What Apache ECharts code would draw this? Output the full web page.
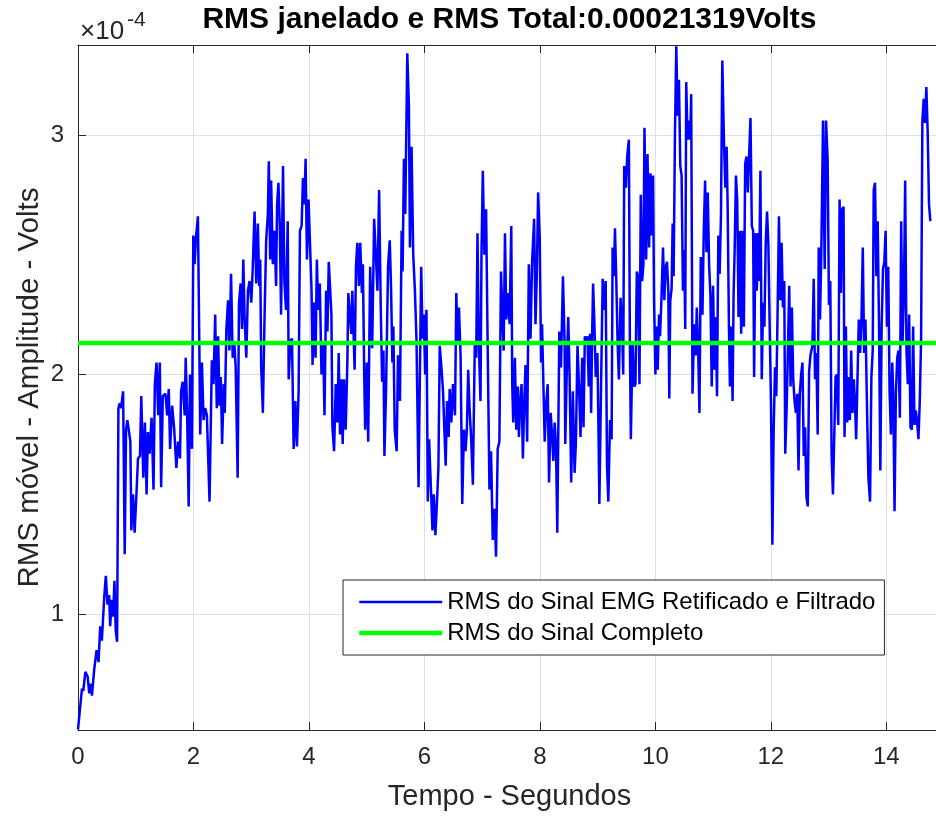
<!DOCTYPE html>
<html>
<head>
<meta charset="utf-8">
<script src="https://cdn.jsdelivr.net/npm/echarts@6.0.0/dist/echarts.min.js"></script>
<style>
html,body{margin:0;padding:0;background:#fff;}
#chart{width:936px;height:816px;}
</style>
</head>
<body>
<div id="chart"></div>
<script>
// Values in units of 1e-4 V, time in seconds
const titleText = 'RMS janelado e RMS Total:0.00021319Volts';
const xLabel = 'Tempo - Segundos';
const yLabel = 'RMS móvel - Amplitude - Volts';
const seriesNames = ['RMS do Sinal EMG Retificado e Filtrado', 'RMS do Sinal Completo'];
const xTicks = [0, 2, 4, 6, 8, 10, 12, 14];
const yTicks = [1, 2, 3];
const xRange = [0, 14.86];
const yRange = [0.517, 3.375];
const rmsTotal = 2.1319; // x 1e-4 V

const emg0 = [[0,0.52],[0.069,0.69],[0.092,0.68],[0.127,0.76],[0.167,0.74],[0.195,0.67],[0.224,0.71],[0.241,0.66],[0.281,0.77],[0.322,0.85],[0.356,0.80],[0.385,0.95],[0.413,0.89],[0.454,1.07],[0.482,1.16],[0.511,1.04],[0.540,1.08],[0.557,0.95],[0.585,1.06],[0.609,0.99],[0.631,1.14],[0.654,0.93],[0.677,0.885],[0.700,1.86],[0.723,1.88],[0.746,1.86],[0.781,1.93],[0.809,1.25],[0.832,1.77],[0.855,1.81],[0.884,1.81],[0.907,1.72],[0.924,1.35],[0.953,1.50],[0.981,1.34],[1.010,1.49],[1.039,1.65],[1.073,1.66],[1.096,1.91],[1.131,1.57],[1.159,1.80],[1.188,1.50],[1.211,1.76],[1.240,1.67],[1.274,1.82],[1.308,1.52],[1.331,1.96],[1.360,2.05],[1.389,1.83],[1.417,2.05],[1.440,1.53],[1.469,1.91],[1.515,1.92],[1.544,1.83],[1.572,1.94],[1.595,1.69],[1.630,1.87],[1.664,1.78],[1.704,1.61],[1.733,1.72],[1.767,1.65],[1.785,1.93],[1.813,1.97],[1.848,1.83],[1.865,2.07],[1.888,1.86],[1.917,1.45],[1.940,2.00],[1.974,1.69],[1.997,2.58],[2.020,2.46],[2.043,2.57],[2.077,2.66],[2.100,2.15],[2.117,1.75],[2.146,2.05],[2.175,1.81],[2.203,1.86],[2.232,1.83],[2.278,1.47],[2.318,2.06],[2.347,1.96],[2.376,2.25],[2.404,1.86]];

const emg1 = [[2.427,2.16],[2.450,1.87],[2.473,1.99],[2.496,1.71],[2.525,1.96],[2.542,1.84],[2.570,2.19],[2.599,2.31],[2.622,2.10],[2.651,2.42],[2.679,2.07],[2.708,2.13],[2.731,2.03],[2.765,1.57],[2.788,2.30],[2.817,2.38],[2.840,2.19],[2.863,2.48],[2.886,2.23],[2.915,2.07],[2.943,2.35],[2.972,2.39],[3.001,2.30],[3.024,2.43],[3.058,2.68],[3.087,2.38],[3.115,2.63],[3.138,2.37],[3.156,2.48],[3.173,2.03],[3.202,1.84],[3.230,2.23],[3.259,2.56],[3.288,2.67],[3.305,2.89],[3.328,2.48],[3.345,2.81],[3.374,2.46],[3.402,2.60],[3.431,2.37],[3.448,2.71],[3.471,2.80],[3.494,2.63],[3.517,2.25],[3.551,2.87],[3.574,2.39],[3.603,2.27],[3.632,2.64],[3.649,1.98],[3.678,2.14],[3.706,2.15],[3.735,1.69],[3.764,1.89],[3.792,1.70],[3.821,1.93],[3.844,2.60],[3.873,2.62],[3.896,2.82],[3.919,2.71],[3.942,2.90],[3.965,2.48],[3.993,2.73],[4.022,2.73],[4.045,2.35],[4.062,2.04],[4.091,2.30],[4.114,2.07],[4.137,2.48],[4.160,2.27],[4.188,2.38],[4.217,2.00],[4.246,2.13],[4.269,1.83],[4.297,2.35],[4.320,2.18],[4.343,2.47],[4.366,2.47],[4.389,2.25],[4.406,1.78],[4.435,1.68],[4.464,1.96],[4.492,1.80],[4.515,2.09],[4.538,1.75],[4.561,1.98],[4.584,1.71],[4.607,1.98],[4.636,1.77],[4.665,2.05],[4.682,2.34],[4.711,2.34],[4.733,2.17],[4.751,2.35],[4.791,2.02],[4.814,2.45],[4.837,2.55],[4.865,2.37]];

const emg2 = [[4.888,2.55],[4.917,2.34],[4.934,2.46],[4.957,2.00],[4.974,1.77],[5.003,2.05],[5.026,1.72],[5.060,2.45],[5.095,2.11],[5.129,2.65],[5.158,2.50],[5.186,2.35],[5.215,2.77],[5.244,2.27],[5.267,1.97],[5.290,2.10],[5.307,1.66],[5.335,1.93],[5.370,2.45],[5.399,2.56],[5.422,2.36],[5.445,2.05],[5.462,2.20],[5.485,1.77],[5.519,1.68],[5.542,2.08],[5.576,1.89],[5.605,2.60],[5.622,2.43],[5.645,2.90],[5.668,2.67],[5.703,3.34],[5.731,3.12],[5.749,2.53],[5.777,2.95],[5.806,2.50],[5.835,2.35],[5.863,2.14],[5.898,1.53],[5.921,2.00],[5.944,2.45],[5.967,2.15],[5.990,2.25],[6.012,2.00],[6.035,2.27],[6.058,1.47],[6.081,1.73],[6.104,1.58],[6.139,1.35],[6.162,1.50],[6.190,1.33],[6.219,1.48],[6.242,1.61],[6.265,2.12],[6.294,2.03],[6.322,1.93],[6.351,1.73],[6.368,1.62],[6.391,1.89],[6.420,1.74],[6.437,1.94],[6.466,1.80],[6.494,1.96],[6.529,1.83],[6.552,2.34],[6.575,2.14],[6.598,2.28],[6.626,2.08],[6.655,1.46],[6.684,1.77],[6.712,1.68],[6.735,1.77],[6.758,2.02],[6.781,1.86],[6.810,1.73],[6.839,1.54],[6.873,2.14],[6.896,2.07],[6.919,2.59],[6.942,2.13],[6.971,1.89],[6.988,2.50],[7.011,2.85],[7.039,2.50],[7.068,2.69],[7.091,2.20],[7.126,1.52],[7.154,1.68],[7.183,1.31],[7.212,1.44],[7.240,1.24],[7.269,1.69],[7.298,1.72],[7.326,2.43]];

const emg3 = [[7.372,2.10],[7.395,2.59],[7.418,2.23],[7.447,2.34],[7.475,2.21],[7.504,2.62],[7.521,1.96],[7.538,1.80],[7.567,2.07],[7.590,1.77],[7.619,1.95],[7.636,1.74],[7.659,1.88],[7.682,1.96],[7.705,1.65],[7.728,1.88],[7.751,2.04],[7.779,1.72],[7.808,2.46],[7.837,2.15],[7.865,2.47],[7.900,2.65],[7.923,2.21],[7.946,2.41],[7.969,2.76],[7.997,2.57],[8.020,2.05],[8.037,2.21],[8.060,1.96],[8.083,1.72],[8.112,1.89],[8.135,1.96],[8.158,1.55],[8.187,1.84],[8.210,1.75],[8.233,1.64],[8.255,1.80],[8.278,1.71],[8.301,1.34],[8.336,2.18],[8.365,2.03],[8.399,2.41],[8.428,2.13],[8.439,1.71],[8.473,2.10],[8.491,2.24],[8.514,1.99],[8.542,1.55],[8.571,1.93],[8.600,1.59],[8.623,1.71],[8.651,2.12],[8.680,1.93],[8.703,1.74],[8.732,2.07],[8.755,1.78],[8.778,2.16],[8.801,2.13],[8.823,2.16],[8.846,1.95],[8.869,2.17],[8.887,1.84],[8.904,2.16],[8.921,2.38],[8.944,2.21],[8.967,1.99],[8.996,2.09],[9.013,1.80],[9.030,1.46],[9.059,1.95],[9.087,2.40],[9.110,2.27],[9.139,2.39],[9.162,1.62],[9.185,1.47],[9.214,1.81],[9.242,1.73],[9.259,2.53],[9.282,2.41],[9.300,2.61],[9.323,2.39],[9.346,2.13],[9.368,1.98],[9.397,2.32],[9.426,2.17],[9.443,2.00],[9.460,2.87],[9.489,2.78],[9.512,2.91],[9.541,2.98],[9.558,2.14],[9.575,1.73],[9.604,2.13],[9.633,1.95],[9.655,1.96],[9.678,2.43],[9.701,2.41],[9.724,1.96],[9.747,2.75],[9.770,2.39],[9.793,2.46]];

const emg4 = [[9.811,3.03],[9.840,2.48],[9.863,2.92],[9.891,2.53],[9.914,2.84],[9.937,2.58],[9.960,2.83],[9.977,2.31],[10.000,2.00],[10.023,2.20],[10.040,2.02],[10.063,2.25],[10.081,2.16],[10.104,2.31],[10.132,2.53],[10.155,2.31],[10.178,2.45],[10.201,2.47],[10.224,2.35],[10.241,1.90],[10.258,2.31],[10.281,2.36],[10.299,2.63],[10.316,2.41],[10.339,3.01],[10.362,3.37],[10.385,3.08],[10.408,3.23],[10.431,2.87],[10.454,2.83],[10.477,2.35],[10.499,2.52],[10.517,2.19],[10.534,3.22],[10.557,2.98],[10.580,3.06],[10.603,2.98],[10.620,3.17],[10.643,1.92],[10.672,2.21],[10.700,2.08],[10.717,2.28],[10.740,2.11],[10.763,1.84],[10.786,2.49],[10.815,2.25],[10.838,2.60],[10.861,2.81],[10.884,2.51],[10.907,2.76],[10.930,2.46],[10.953,2.33],[10.976,1.95],[10.999,2.37],[11.022,2.02],[11.045,2.24],[11.067,1.91],[11.090,2.58],[11.113,2.42],[11.136,2.67],[11.159,3.31],[11.188,2.97],[11.211,2.78],[11.234,2.95],[11.251,2.71],[11.274,2.20],[11.291,1.95],[11.314,2.20],[11.337,1.89],[11.354,2.33],[11.372,2.51],[11.395,2.83],[11.417,2.73],[11.440,2.24],[11.463,2.60],[11.486,2.17],[11.509,2.60],[11.532,2.20],[11.555,2.88],[11.578,2.91],[11.601,2.76],[11.624,2.92],[11.647,3.07],[11.670,2.62],[11.693,2.60],[11.710,1.99],[11.733,2.59],[11.756,2.35],[11.779,2.59],[11.796,2.39],[11.819,2.85],[11.842,1.98],[11.865,2.30],[11.888,2.20],[11.911,2.55],[11.934,2.68],[11.957,2.54],[11.980,2.19],[12.003,1.86],[12.026,1.29],[12.049,1.78],[12.072,2.03],[12.094,1.91],[12.117,2.27],[12.140,2.66],[12.163,2.31],[12.186,2.55],[12.209,2.28],[12.232,2.39],[12.249,1.67]];

const emg5 = [[12.272,1.85],[12.295,2.10],[12.318,2.37],[12.341,1.95],[12.364,2.28],[12.387,1.98],[12.410,1.89],[12.433,1.84],[12.456,1.92],[12.479,1.60],[12.501,1.92],[12.524,2.00],[12.547,2.05],[12.570,1.66],[12.593,1.78],[12.616,1.49],[12.639,1.45],[12.662,2.01],[12.685,2.08],[12.719,2.12],[12.742,2.40],[12.765,1.98],[12.788,2.09],[12.811,1.75],[12.829,2.53],[12.851,2.23],[12.874,2.51],[12.903,3.06],[12.932,2.44],[12.955,3.06],[12.983,2.90],[13.006,2.29],[13.029,2.39],[13.052,1.66],[13.075,1.50],[13.104,1.50],[13.121,1.99],[13.144,2.00],[13.167,1.79],[13.190,2.73],[13.213,2.34],[13.236,2.69],[13.259,2.70],[13.276,1.74],[13.299,2.20],[13.322,1.80],[13.345,1.99],[13.368,1.81],[13.391,2.10],[13.414,1.84],[13.437,1.98],[13.460,1.86],[13.477,1.73],[13.500,1.98],[13.523,2.23],[13.546,2.09],[13.569,2.23],[13.592,2.53],[13.615,2.09],[13.638,2.23],[13.666,1.85],[13.689,1.57],[13.718,1.47],[13.741,1.99],[13.764,2.10],[13.781,2.77],[13.804,2.80],[13.827,2.41],[13.850,2.64],[13.873,2.21],[13.896,1.60],[13.919,2.21],[13.942,2.44],[13.965,2.47],[13.987,2.60],[14.010,2.20],[14.033,2.45],[14.056,1.93],[14.079,1.75],[14.102,2.05],[14.119,1.92],[14.142,1.43],[14.165,1.92],[14.188,2.07],[14.211,2.10],[14.234,1.82],[14.257,2.64],[14.280,2.13],[14.303,2.32],[14.326,2.81],[14.349,2.10],[14.372,1.96],[14.395,2.25],[14.418,1.78],[14.441,1.77],[14.464,2.20],[14.487,1.79],[14.510,1.85],[14.533,1.80],[14.556,1.73],[14.579,1.89],[14.602,2.15],[14.624,3.06],[14.647,3.15],[14.670,3.05],[14.693,3.20],[14.716,3.01],[14.739,2.71],[14.762,2.64]];

const emgData = [].concat(emg0, emg1, emg2, emg3, emg4, emg5);
const rmsLine = [[xRange[0], rmsTotal], [xRange[1], rmsTotal]];

const FONT = 'Liberation Sans, Arial, Helvetica, sans-serif';
const AX = '#262626';
const GRIDC = '#dfdfdf';
const BLUE_W = 2.5, GREEN_W = 4.5;

const chart = echarts.init(document.getElementById('chart'), null, {renderer: 'canvas'});
chart.setOption({
  animation: false,
  backgroundColor: '#ffffff',
  grid: {left: 78, right: -5, top: 45, bottom: 86, containLabel: false},
  xAxis: [{
    type: 'value', min: xRange[0], max: xRange[1], position: 'bottom',
    axisLine: {show: true, onZero: false, lineStyle: {color: AX, width: 1}},
    axisTick: {show: true, inside: true, length: 8, customValues: xTicks, lineStyle: {color: AX}},
    axisLabel: {show: true, customValues: xTicks, margin: 15, color: AX, fontSize: 24, fontFamily: FONT},
    splitLine: {show: true, lineStyle: {color: GRIDC, width: 1}}
  }, {
    type: 'value', min: xRange[0], max: xRange[1], position: 'top',
    axisLine: {show: true, onZero: false, lineStyle: {color: AX, width: 1}},
    axisTick: {show: true, inside: true, length: 8, customValues: xTicks, lineStyle: {color: AX}},
    axisLabel: {show: false},
    splitLine: {show: false}
  }],
  yAxis: [{
    type: 'value', min: yRange[0], max: yRange[1],
    axisLine: {show: true, onZero: false, lineStyle: {color: AX, width: 1}},
    axisTick: {show: true, inside: true, length: 8, customValues: yTicks, lineStyle: {color: AX}},
    axisLabel: {show: true, customValues: yTicks, margin: 14, color: AX, fontSize: 24, fontFamily: FONT},
    splitLine: {show: true, lineStyle: {color: GRIDC, width: 1}}
  }],
  legend: {
    show: true, orient: 'vertical', left: 343, top: 580,
    padding: [10, 9, 10, 14], itemGap: 7, itemWidth: 83, itemHeight: 14,
    borderColor: AX, borderWidth: 1, backgroundColor: '#ffffff',
    itemStyle: {opacity: 0},
    textStyle: {fontSize: 24, color: '#000000', fontFamily: FONT},
    data: [
      {name: seriesNames[0], lineStyle: {width: BLUE_W, color: '#0000ff'}},
      {name: seriesNames[1], lineStyle: {width: GREEN_W, color: '#00ff00'}}
    ]
  },
  series: [{
    name: seriesNames[0], type: 'line', data: emgData, xAxisIndex: 0, yAxisIndex: 0,
    symbol: 'none', showSymbol: false, smooth: false,
    lineStyle: {color: '#0000ff', width: BLUE_W}, itemStyle: {color: '#0000ff'}, z: 2
  }, {
    name: seriesNames[1], type: 'line', data: rmsLine, xAxisIndex: 0, yAxisIndex: 0,
    symbol: 'none', showSymbol: false,
    lineStyle: {color: '#00ff00', width: GREEN_W}, itemStyle: {color: '#00ff00'}, z: 3
  }],
  graphic: [
    {type: 'text', x: 509.5, y: 20, style: {text: titleText, fill: '#000000', font: 'bold 30px ' + FONT, textAlign: 'center', textVerticalAlign: 'middle'}},
    {type: 'text', x: 509.5, y: 797, style: {text: xLabel, fill: AX, font: '29px ' + FONT, textAlign: 'center', textVerticalAlign: 'middle'}},
    {type: 'text', x: 30, y: 387.5, rotation: Math.PI / 2, style: {text: yLabel, fill: AX, font: '29.5px ' + FONT, textAlign: 'center', textVerticalAlign: 'middle'}},
    {type: 'text', x: 80, y: 32, style: {text: '×10', fill: AX, font: '26px ' + FONT, textAlign: 'left', textVerticalAlign: 'middle'}},
    {type: 'text', x: 127, y: 20, style: {text: '-4', fill: AX, font: '21px ' + FONT, textAlign: 'left', textVerticalAlign: 'middle'}}
  ]
});
</script>
</body>
</html>
